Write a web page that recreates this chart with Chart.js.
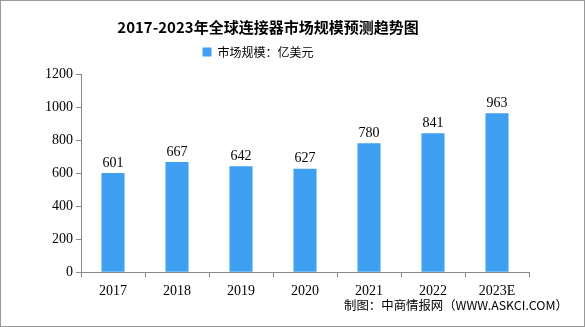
<!DOCTYPE html>
<html>
<head>
<meta charset="utf-8">
<script src="https://cdn.jsdelivr.net/npm/chart.js@4"></script>
<style>
  html, body { margin: 0; padding: 0; background: #fff; }
  #wrap { width: 585px; height: 327px; box-sizing: border-box; border: 1px solid #999; position: relative; }
  canvas { display: block; }
  #fuente { position: absolute; right: 16px; top: 295px; font: 12.4px 'Noto Sans CJK SC', sans-serif; color: #000; white-space: nowrap; }
</style>
</head>
<body>
<div id="wrap">
  <canvas id="chart" width="583" height="325"></canvas>
  <div id="fuente">制图：中商情报网（WWW.ASKCI.COM）</div>
</div>
<script>
const years = ['2017', '2018', '2019', '2020', '2021', '2022', '2023E'];
const marketSize = [601, 667, 642, 627, 780, 841, 963];
const yTicks = [0, 200, 400, 600, 800, 1000, 1200];

const numFont = "'Liberation Serif', 'DejaVu Serif', serif";
const cjkFont = "'Noto Sans CJK SC', sans-serif";

// etiquetas de valor encima de cada barra
const valueLabels = {
  id: 'valueLabels',
  afterDatasetsDraw(chart) {
    const ctx = chart.ctx;
    const meta = chart.getDatasetMeta(0);
    ctx.save();
    ctx.font = '14px ' + numFont;
    ctx.fillStyle = '#000';
    ctx.textAlign = 'center';
    ctx.textBaseline = 'bottom';
    meta.data.forEach((bar, i) => {
      ctx.fillText(marketSize[i], bar.x, bar.y - 3);
    });
    ctx.restore();
  }
};

// más espacio debajo de la leyenda
const legendGap = {
  id: 'legendGap',
  beforeLayout(chart) {
    const lg = chart.legend;
    if (lg && !lg._gapPatched) {
      const fit = lg.fit;
      lg.fit = function () { fit.call(this); this.height += 6; };
      lg._gapPatched = true;
    }
  }
};

// mover título y leyenda un poco a la izquierda
const shiftHeader = {
  id: 'shiftHeader',
  afterLayout(chart) {
    [chart.titleBlock, chart.legend].forEach(box => {
      if (box) { box.left -= 12; box.right -= 12; }
    });
    if (chart.legend) { chart.legend.left -= 10; chart.legend.right -= 10; }
  }
};

new Chart(document.getElementById('chart'), {
  type: 'bar',
  data: {
    labels: years,
    datasets: [{
      label: '市场规模：亿美元',
      data: marketSize,
      backgroundColor: '#3F9FF0',
      borderWidth: 0,
      categoryPercentage: 1,
      barPercentage: 0.36
    }]
  },
  options: {
    responsive: false,
    animation: false,
    devicePixelRatio: 1,
    layout: { padding: { left: 30, right: 55, top: 9, bottom: 20 } },
    plugins: {
      title: {
        display: true,
        text: '2017-2023年全球连接器市场规模预测趋势图',
        color: '#000',
        font: { family: cjkFont, size: 15, weight: 'bold' },
        padding: { top: 8, bottom: -10 }
      },
      legend: {
        display: true,
        labels: {
          color: '#000',
          boxWidth: 9,
          boxHeight: 9,
          padding: 20,
          font: { family: cjkFont, size: 12 }
        }
      },
      tooltip: { enabled: false }
    },
    scales: {
      x: {
        grid: { display: true, drawOnChartArea: false, color: '#888', tickLength: 5, offset: true },
        border: { color: '#888' },
        ticks: { color: '#000', font: { family: numFont, size: 14 }, padding: 6, maxRotation: 0, autoSkip: false }
      },
      y: {
        min: 0,
        max: 1200,
        afterBuildTicks(axis) { axis.ticks = yTicks.map(v => ({ value: v })); },
        afterFit(axis) { axis.width = 50; },
        grid: { display: true, drawOnChartArea: false, color: '#888', tickLength: 5 },
        border: { color: '#888' },
        ticks: { color: '#000', font: { family: numFont, size: 14 }, padding: 3, callback: v => String(v) }
      }
    }
  },
  plugins: [valueLabels, legendGap, shiftHeader]
});
</script>
</body>
</html>
